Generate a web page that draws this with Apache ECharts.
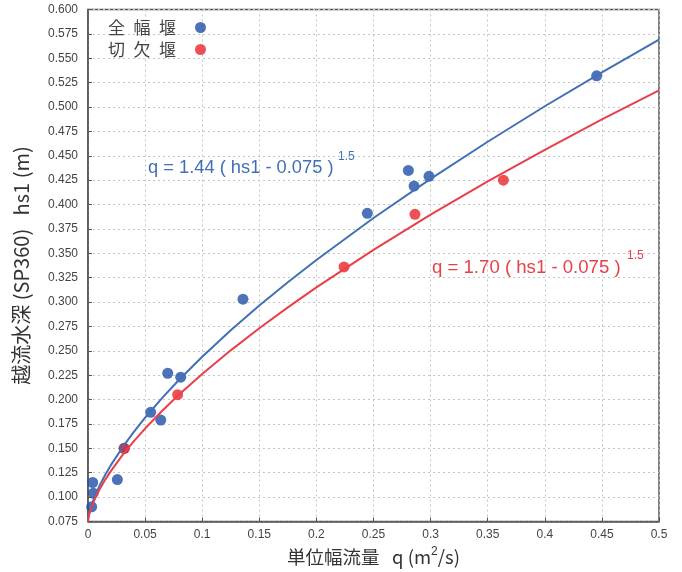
<!DOCTYPE html>
<html><head><meta charset="utf-8">
<script src="https://cdn.jsdelivr.net/npm/echarts@6/dist/echarts.min.js"></script>
<style>html,body{margin:0;padding:0;background:#fff}#c{width:682px;height:572px}</style>
</head><body><div id="c"></div>
<script>
// Measured points: 全幅堰 (full-width weir)
const fullQ = [0.0032, 0.0046, 0.0041, 0.0257, 0.0315, 0.0549, 0.0637, 0.0698, 0.0812, 0.1357, 0.2446, 0.2805, 0.2855, 0.2986, 0.4454];
const fullH = [0.090, 0.104, 0.115, 0.118, 0.150, 0.187, 0.179, 0.227, 0.223, 0.303, 0.391, 0.435, 0.419, 0.429, 0.532];
// Measured points: 切欠堰 (notched weir)
const notchQ = [0.032, 0.0785, 0.2242, 0.2863, 0.3637];
const notchH = [0.150, 0.205, 0.336, 0.390, 0.425];
// Fitted curves
const curveQ = [0, 0.0002, 0.0005, 0.001, 0.002, 0.0035, 0.005, 0.0075, 0.01, 0.015, 0.02, 0.03, 0.04, 0.05, 0.065, 0.08, 0.1, 0.125, 0.15, 0.175, 0.2, 0.25, 0.3, 0.35, 0.4, 0.45, 0.5];
const fullFitH = [0.075, 0.0777, 0.0799, 0.0828, 0.0875, 0.0931, 0.0980, 0.1051, 0.1114, 0.1227, 0.1328, 0.1507, 0.1667, 0.1814, 0.2018, 0.2206, 0.2439, 0.2710, 0.2964, 0.3203, 0.3432, 0.3862, 0.4264, 0.4644, 0.5008, 0.5355, 0.569];
const notchFitH = [0.075, 0.0774, 0.0794, 0.0820, 0.0861, 0.0912, 0.0955, 0.1019, 0.1076, 0.1177, 0.1267, 0.1428, 0.1571, 0.1703, 0.1885, 0.2054, 0.2262, 0.2505, 0.2732, 0.2946, 0.3151, 0.3536, 0.3896, 0.4237, 0.4561, 0.4873, 0.517];
const legendNames = ['全幅堰', '切欠堰'];
const xNameMain = '単位幅流量   q (m';
const xNameSup = '2';
const xNameTail = '/s)';
const yName = '越流水深 (SP360)   hs1 (m)';
const eqFull = 'q = 1.44 ( hs1 - 0.075 )';
const eqNotch = 'q = 1.70 ( hs1 - 0.075 )';
const eqExp = '1.5';

const zip = (a, b) => a.map((v, i) => [v, b[i]]);
const blueDot = '#1f4fa6', redDot = '#e8262c', blueLine = '#4270b6', redLine = '#e8404a';
const font = '"Liberation Sans", Arial, sans-serif';
const cjk = '"Noto Sans CJK JP", "Liberation Sans", sans-serif';

const chart = echarts.init(document.getElementById('c'));
chart.setOption({
  animation: false,
  backgroundColor: '#fff',
  grid: { left: 88, right: 23, top: 9.5, bottom: 50.5, show: true, borderColor: '#555', borderWidth: 1.5 },
  legend: {
    data: legendNames, orient: 'vertical', left: 108, top: 19, padding: 0, align: 'right',
    itemWidth: 11, itemHeight: 11, itemGap: 5, icon: 'circle',
    formatter: n => n.split('').join('\u2002'),
    textStyle: { fontSize: 17, lineHeight: 17, color: '#444', fontFamily: cjk, padding: [0, 14, 0, 0] }
  },
  xAxis: {
    type: 'value', min: 0, max: 0.5, interval: 0.05,
    name: '{a|' + xNameMain + '}{s|' + xNameSup + '}{a|' + xNameTail + '}',
    nameLocation: 'middle', nameGap: 24,
    nameTextStyle: { color: '#333',
      rich: {
        a: { fontSize: 18.5, lineHeight: 22, color: '#333', fontFamily: cjk },
        s: { fontSize: 12, lineHeight: 12, color: '#333', fontFamily: font, verticalAlign: 'top' }
      } },
    axisLine: { show: true, lineStyle: { color: '#555', width: 1.5 } },
    axisTick: { show: true, inside: true, length: 4, lineStyle: { color: '#555' } },
    axisLabel: { fontSize: 12, color: '#444', fontFamily: font, margin: 7,
      formatter: v => String(+v.toFixed(2)) },
    splitLine: { show: true, lineStyle: { color: '#c4c4c4', type: [2, 3], width: 1 } }
  },
  yAxis: {
    type: 'value', min: 0.075, max: 0.6, interval: 0.025,
    name: yName, nameLocation: 'middle', nameGap: 57,
    nameTextStyle: { fontSize: 20, color: '#333', fontFamily: cjk },
    axisLine: { show: true, lineStyle: { color: '#555', width: 1.5 } },
    axisTick: { show: true, inside: true, length: 4, lineStyle: { color: '#555' } },
    axisLabel: { fontSize: 12, color: '#444', fontFamily: font, margin: 10,
      formatter: v => v.toFixed(3) },
    splitLine: { show: true, lineStyle: { color: '#c4c4c4', type: [2, 3], width: 1 } }
  },
  graphic: [
    { type: 'text', left: 148, top: 159, z: 100, style: { text: eqFull, fontSize: 18.3, fill: blueLine, fontFamily: font } },
    { type: 'text', left: 338, top: 151, z: 100, style: { text: eqExp, fontSize: 12, fill: blueLine, fontFamily: font } },
    { type: 'text', left: 432, top: 258, z: 100, style: { text: eqNotch, fontSize: 18.6, fill: redLine, fontFamily: font } },
    { type: 'text', left: 627, top: 250, z: 100, style: { text: eqExp, fontSize: 12, fill: redLine, fontFamily: font } }
  ],
  series: [
    { name: legendNames[0], type: 'scatter', data: zip(fullQ, fullH), symbolSize: 11, itemStyle: { color: blueDot }, z: 2 },
    { name: legendNames[1], type: 'scatter', data: zip(notchQ, notchH), symbolSize: 11, itemStyle: { color: redDot }, z: 2 },
    { name: 'fitFull', type: 'line', data: zip(curveQ, fullFitH), showSymbol: false, smooth: false,
      lineStyle: { color: blueLine, width: 2 }, z: 3 },
    { name: 'fitNotch', type: 'line', data: zip(curveQ, notchFitH), showSymbol: false, smooth: false,
      lineStyle: { color: redLine, width: 2 }, z: 3 }
  ]
});
</script></body></html>
